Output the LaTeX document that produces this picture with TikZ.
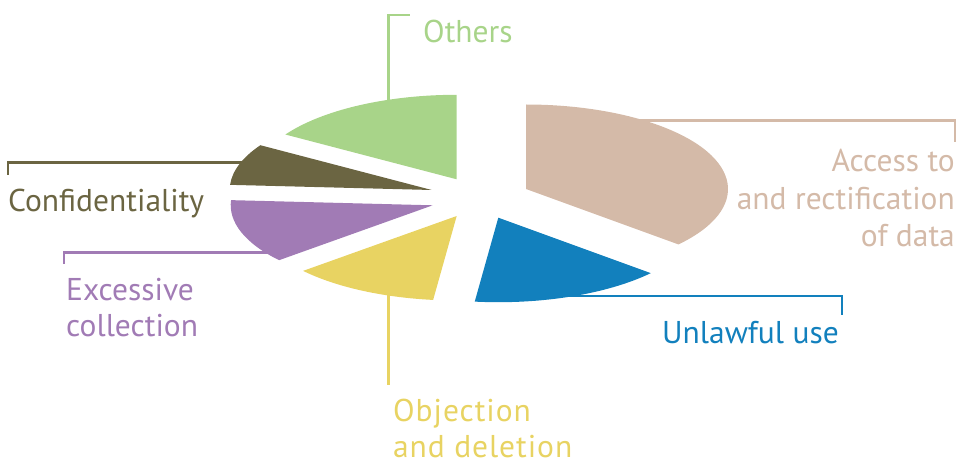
\documentclass[tikz,border=0pt]{standalone}
\usepackage{fontspec}
\setmainfont{PT Sans}
\definecolor{cgreen}{RGB}{168,212,137}
\definecolor{cbrown}{RGB}{212,186,168}
\definecolor{colive}{RGB}{107,101,66}
\definecolor{cpurple}{RGB}{161,123,181}
\definecolor{cyellow}{RGB}{232,211,98}
\definecolor{cblue}{RGB}{18,128,189}
\tikzset{
  leader/.style={line width=2.6pt},
  lbl/.style={inner sep=0pt, font=\fontsize{31.5}{37}\selectfont},
  spaced/.style={font=\fontsize{31.5}{37}\selectfont\addfontfeature{LetterSpace=3}},
}
\newcommand{\pieslice}[4]{% color, apex, start, end
  \fill[#1] (#2) -- ++(#3:202 and 84.5) arc[start angle=#3, end angle=#4, x radius=202, y radius=84.5] -- cycle;}
\begin{document}
\begin{tikzpicture}[x=1pt,y=1pt]
\useasboundingbox (0,0) rectangle (958,464);
% apexes
\coordinate (aB) at (526,275);
\coordinate (aG) at (456.7,284.7);
\coordinate (aO) at (431.7,274);
\coordinate (aP) at (432.7,258.7);
\coordinate (aY) at (456.7,248);
\coordinate (aU) at (498.3,246.3);
% leader end points
\coordinate (gIn) at (388.3,355);
\coordinate (gTop) at (388.3,449);
\coordinate (gEnd) at (410,449);
\coordinate (oIn) at (250,301.3);
\coordinate (oCorner) at (8,301.3);
\coordinate (oEnd) at (8,289);
\coordinate (pIn) at (285,211.3);
\coordinate (pCorner) at (64,211.3);
\coordinate (pEnd) at (64,200);
\coordinate (bIn) at (630,343.3);
\coordinate (bCorner) at (955,343.3);
\coordinate (bEnd) at (955,322.3);
\coordinate (uIn) at (485,168);
\coordinate (uCorner) at (842,168);
\coordinate (uEnd) at (842,149);
\coordinate (yIn) at (388.3,180);
\coordinate (yEnd) at (388.3,79);
% leaders
\draw[leader, cgreen] (gIn) -- (gTop) -- (gEnd);
\draw[leader, colive] (oIn) -- (oCorner) -- (oEnd);
\draw[leader, cpurple] (pIn) -- (pCorner) -- (pEnd);
\draw[leader, cbrown] (bIn) -- (bCorner) -- (bEnd);
\draw[leader, cblue] (uIn) -- (uCorner) -- (uEnd);
\draw[leader, cyellow] (yIn) -- (yEnd);
% slices
\pieslice{cbrown}{aB}{-41}{90}
\pieslice{cgreen}{aG}{90}{148}
\pieslice{colive}{aO}{148}{176.5}
\pieslice{cpurple}{aP}{176.5}{220.5}
\pieslice{cyellow}{aY}{220.5}{263.3}
\pieslice{cblue}{aU}{263.3}{319}
% labels
\node[lbl, text=cgreen, anchor=base west] (others) at (423,421.3) {Others};
\node[lbl, text=colive, anchor=base west] (conf) at (8,252.3) {Confidentiality};
\node[lbl, text=cpurple, anchor=base west] (exc1) at (66,164) {Excessive};
\node[lbl, text=cpurple, anchor=base west] (exc2) at (66,128) {collection};
\node[lbl, text=cbrown, anchor=base east] (acc1) at (955,292.3) {Access to};
\node[lbl, text=cbrown, anchor=base east] (acc2) at (955,254) {and rectification};
\node[lbl, text=cbrown, anchor=base east] (acc3) at (955,217.3) {of data};
\node[lbl, text=cblue, anchor=base east] (unl) at (839,121) {Unlawful use};
\node[lbl, spaced, text=cyellow, anchor=base west] (obj1) at (393,42.3) {Objection};
\node[lbl, spaced, text=cyellow, anchor=base west] (obj2) at (393,7) {and deletion};
\end{tikzpicture}
\end{document}
